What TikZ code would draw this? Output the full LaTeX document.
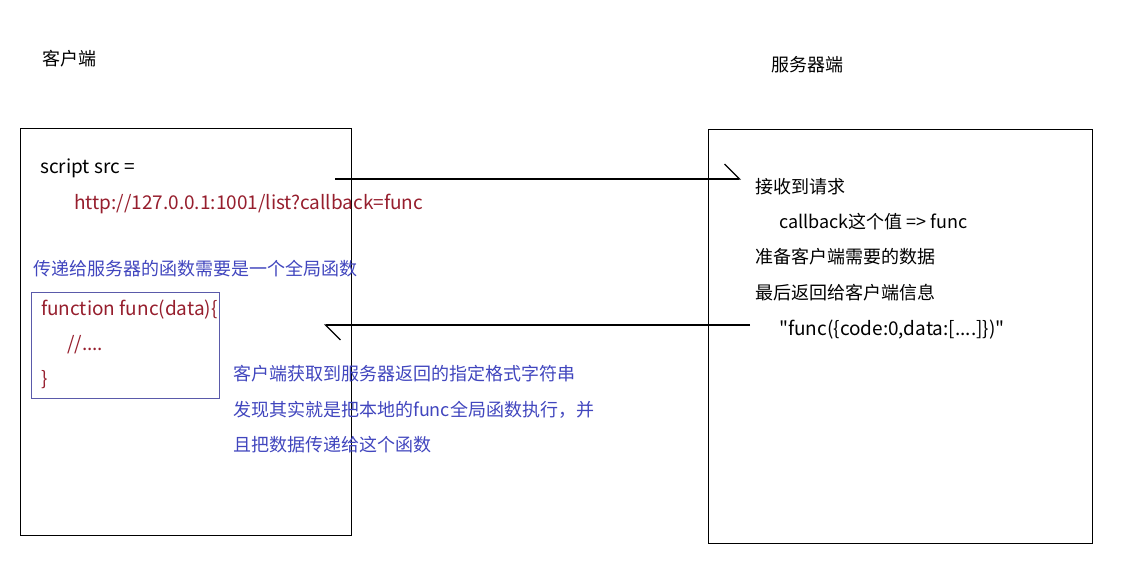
\documentclass[tikz,border=0pt]{standalone}
\usepackage{fontspec}
\setmainfont{Noto Sans CJK SC}
\newfontfamily\rawfont{Noto Sans CJK SC}
\usetikzlibrary{arrows.meta,positioning}
\definecolor{codered}{RGB}{150,30,45}
\definecolor{noteblue}{RGB}{65,70,190}
\definecolor{boxblue}{RGB}{90,90,170}
\tikzset{
  panel/.style={draw=black, line width=1.3pt, anchor=north west, inner sep=0pt},
  funcbox/.style={draw=boxblue, line width=1pt, anchor=north west, inner sep=0pt},
  txt/.style={anchor=west, inner sep=0pt, text height=13pt, text depth=3pt,
    font=\fontsize{18}{22}\selectfont},
  latintxt/.style={txt, font=\fontsize{19}{22}\selectfont},
  codetxt/.style={latintxt, text=codered},
  notetxt/.style={txt, text=noteblue},
  msg/.style={-{Straight Barb[harpoon,length=15pt,width=30pt]}, line width=1.2pt}
}

\begin{document}
\begin{tikzpicture}[x=1pt,y=-1pt]
\useasboundingbox (0,0) rectangle (1121,578);

% the two sides
\node[txt] (clienttitle) at (42,61) {客户端};
\node[txt] (servertitle) at (771,66) {服务器端};
\node[panel, minimum width=331pt, minimum height=407pt] (client) at (20,128) {};
\node[panel, minimum width=384pt, minimum height=414pt] (server) at (708,129) {};

% client side
\node[latintxt] (script) at (40,168) {script src =};
\node[codetxt] (url) at (74,204) {http://127.0.0.1:1001/list?callback=func};
\node[notetxt] (globalnote) at (33,270) {传递给服务器的函数需要是一个全局函数};
\node[funcbox, minimum width=188pt, minimum height=106pt] (func) at (31,292) {};
\node[codetxt] (funchead) at (41,310) {function func(data)\{};
\node[codetxt] (funcbody) at (67,345) {//....};
\node[codetxt] (funcend) at (41,380) {\}};
\node[notetxt] (note1) at (233,375) {客户端获取到服务器返回的指定格式字符串};
\node[notetxt] (note2) at (233,411) {发现其实就是把本地的func全局函数执行，并};
\node[notetxt] (note3) at (233,446) {且把数据传递给这个函数};

% server side
\node[txt] (recv) at (755,188) {接收到请求};
\node[txt] (cbval) at (779,223) {callback这个值 => func};
\node[txt] (prep) at (755,258) {准备客户端需要的数据};
\node[txt] (reply) at (755,294) {最后返回给客户端信息};
\node[latintxt] (payload) at (779,330) {\rawfont "func(\{code:0,data:[....]\})"};

% request and response
\coordinate (reqstart) at (335,179);
\coordinate (reqend) at (741,179);
\coordinate (respstart) at (750,325);
\coordinate (respend) at (324,325);
\draw[msg] (reqstart) -- (reqend);
\draw[msg] (respstart) -- (respend);
\end{tikzpicture}
\end{document}
